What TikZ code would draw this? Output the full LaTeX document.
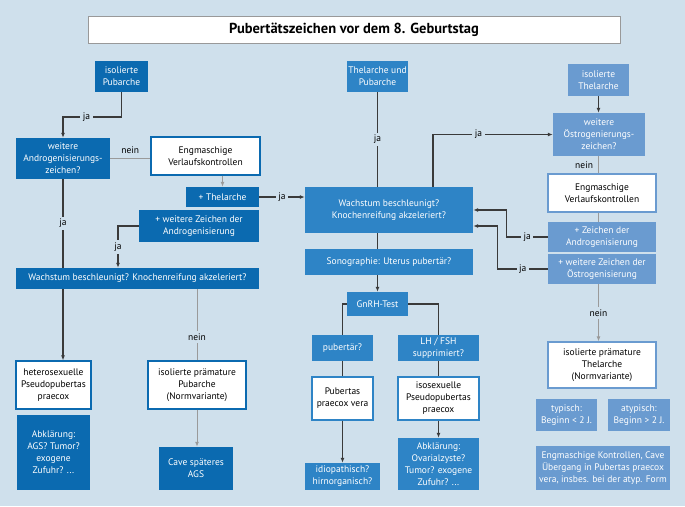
\documentclass[tikz,border=0pt]{standalone}
\usepackage{fontspec}
\setmainfont{PT Sans}
\usetikzlibrary{arrows.meta}
\definecolor{bgblue}{HTML}{CFE0EC}
\definecolor{leftblue}{HTML}{0B6AB0}
\definecolor{midblue}{HTML}{2E84C6}
\definecolor{rightblue}{HTML}{6A9BD0}
\definecolor{darkline}{HTML}{3A3A3A}
\definecolor{greyline}{HTML}{9A9A9A}

\begin{document}
\begin{tikzpicture}[x=1pt,y=-1pt,
            every node/.style={font=\fontsize{9.5}{12}\selectfont, align=center, inner sep=1pt},
            lbox/.style={fill=leftblue, text=white},
            mbox/.style={fill=midblue, text=white},
            rbox/.style={fill=rightblue, text=white},
            wbox/.style={fill=white, draw=#1, line width=1.2pt, text=black},
            ja/.style={draw=darkline, line width=1.3pt},
            nein/.style={draw=greyline, line width=1pt},
            arr/.style={-{Latex[length=5pt,width=4pt]}},
            lbl/.style={fill=bgblue, inner sep=2.5pt, text=black}]
            \path[use as bounding box, fill=bgblue] (0,0) rectangle (685,506);
            \node[fill=white, draw=gray!80, line width=0.8pt, minimum width=532, minimum height=27,
                font=\bfseries\fontsize{14.5}{16}\selectfont] (title) at (354,29.5) {Pubertätszeichen vor dem 8. Geburtstag};

            \node[lbox, minimum width=53, minimum height=31] (pubA) at (121.5,76.5) {isolierte\\Pubarche};
            \node[lbox, minimum width=94, minimum height=41] (wAndro) at (63,158.5) {weitere\\Androgenisierungs-\\zeichen?};
            \node[wbox=leftblue, minimum width=109, minimum height=38] (engL) at (205.5,156) {Engmaschige\\Verlaufskontrollen};
            \node[lbox, minimum width=73, minimum height=20] (plusThel) at (222.5,197) {+ Thelarche};
            \node[lbox, minimum width=120, minimum height=32] (plusAndro) at (199,226) {+ weitere Zeichen der\\Androgenisierung};
            \node[lbox, minimum width=243, minimum height=21] (wachL) at (137.5,278.5) {Wachstum beschleunigt? Knochenreifung akzeleriert?};
            \node[wbox=leftblue, minimum width=75, minimum height=48] (hetero) at (53.5,385) {heterosexuelle\\Pseudopubertas\\praecox};
            \node[lbox, minimum width=73, minimum height=75] (abkL) at (53.5,452.5) {Abklärung:\\AGS? Tumor?\\exogene\\Zufuhr? ...};
            \node[wbox=leftblue, minimum width=98, minimum height=48] (isoPub) at (197,385) {isolierte prämature\\Pubarche\\(Normvariante)};
            \node[lbox, minimum width=74, minimum height=43] (cave) at (196,468.5) {Cave späteres\\AGS};

            \node[mbox, minimum width=61, minimum height=31] (thPub) at (377.5,76.5) {Thelarche und\\Pubarche};
            \node[mbox, minimum width=168, minimum height=46] (wachM) at (389,210) {Wachstum beschleunigt?\\Knochenreifung akzeleriert?};
            \node[mbox, minimum width=168, minimum height=26] (sono) at (389,262) {Sonographie: Uterus pubertär?};
            \node[mbox, minimum width=61, minimum height=24] (gnrh) at (377.5,304) {GnRH-Test};
            \node[mbox, minimum width=61, minimum height=26] (pubQ) at (342.5,348) {pubertär?};
            \node[mbox, minimum width=81, minimum height=26] (lhfsh) at (438.5,348) {LH / FSH\\supprimiert?};
            \node[wbox=midblue, minimum width=61, minimum height=43] (pvera) at (342.5,398.5) {Pubertas\\praecox vera};
            \node[wbox=midblue, minimum width=81, minimum height=43] (isoSex) at (438.5,398.5) {isosexuelle\\Pseudopubertas\\praecox};
            \node[mbox, minimum width=75, minimum height=27] (idio) at (342.5,476.5) {idiopathisch?\\hirnorganisch?};
            \node[mbox, minimum width=81, minimum height=52] (abkM) at (438.5,464) {Abklärung:\\Ovarialzyste?\\Tumor? exogene\\Zufuhr? ...};

            \node[rbox, minimum width=61, minimum height=32] (isoThel) at (598.5,80) {isolierte\\Thelarche};
            \node[rbox, minimum width=92, minimum height=43] (wOestro) at (599,134.5) {weitere\\Östrogenierungs-\\zeichen?};
            \node[wbox=rightblue, minimum width=108, minimum height=38] (engR) at (602,193) {Engmaschige\\Verlaufskontrollen};
            \node[rbox, minimum width=108, minimum height=30] (plusAndroR) at (602,237) {+ Zeichen der\\Androgenisierung};
            \node[rbox, minimum width=108, minimum height=30] (plusOestro) at (602,269) {+ weitere Zeichen der\\Östrogenisierung};
            \node[wbox=rightblue, minimum width=108, minimum height=46] (isoThelN) at (602,365) {isolierte prämature\\Thelarche\\(Normvariante)};
            \node[rbox, minimum width=61, minimum height=32] (typ) at (566.5,415) {typisch:\\Beginn < 2 J.};
            \node[rbox, minimum width=62, minimum height=32] (atyp) at (639,415) {atypisch:\\Beginn > 2 J.};
            \node[rbox, minimum width=134, minimum height=44] (engK) at (603,468) {Engmaschige Kontrollen, Cave\\Übergang in Pubertas praecox\\vera, insbes. bei der atyp. Form};

            \draw[ja, arr] (pubA.south) -- (pubA.south |- 0,117) -- node[lbl, pos=0.6] {ja} (wAndro.north |- 0,117) -- (wAndro.north);
            \draw[nein] (wAndro.east) -- node[above, text=black, inner sep=4pt] {nein} (wAndro.east -| engL.west);
            \draw[nein, arr] (engL.south -| plusThel.north) -- (plusThel.north);
            \draw[ja, arr] (plusThel.east) -- node[lbl] {ja} (plusThel.east -| wachM.west);
            \draw[ja, arr] (plusAndro.west) -| node[lbl, pos=0.75] {ja} ([xshift=-19.5pt]wachL.north);
            \draw[ja] (wAndro.south) -- node[lbl] {ja} (wAndro.south |- wachL.north);
            \draw[ja, arr] (wAndro.south |- wachL.south) -- (wAndro.south |- hetero.north);
            \draw[nein] (isoPub.north |- wachL.south) -- node[lbl, pos=0.67] {nein} (isoPub.north);
            \draw[nein, arr] (isoPub.south) -- (isoPub.south |- cave.north);

            \draw[ja] (thPub.south) -- node[lbl] {ja} (thPub.south |- wachM.north);
            \draw[ja] (thPub.south |- wachM.south) -- (thPub.south |- sono.north);
            \draw[ja, arr] (thPub.south |- sono.south) -- (gnrh.north);
            \draw[ja] (gnrh.west) -| (pubQ.north);
            \draw[ja] (gnrh.east) -| (lhfsh.north);
            \draw[ja] (pubQ.south) -- (pvera.north);
            \draw[ja, arr] (pvera.south) -- (idio.north);
            \draw[ja] (lhfsh.south) -- (isoSex.north);
            \draw[ja, arr] (isoSex.south) -- (abkM.north);
            \draw[ja, arr] ([xshift=44pt]wachM.north) |- node[lbl, pos=0.69] {ja} (wOestro.west);

            \draw[ja, arr] (isoThel.south) -- (isoThel.south |- wOestro.north);
            \draw[nein] (isoThel.south |- wOestro.south) -- node[left, text=black, xshift=-4pt] {nein} (isoThel.south |- engR.north);
            \draw[nein] (isoThel.south |- engR.south) -- (isoThel.south |- plusAndroR.north);
            \draw[nein, arr] (isoThel.south |- plusOestro.south) -- node[lbl] {nein} (isoThel.south |- isoThelN.north);
            \draw[ja, arr] (plusAndroR.west) -- node[lbl] {ja} ++(-41,0) |- (wachM.east);
            \draw[ja, arr] (plusOestro.west) -- node[lbl] {ja} ++(-50,0) |- ([yshift=-16pt]wachM.east);
        \end{tikzpicture}
\end{document}
